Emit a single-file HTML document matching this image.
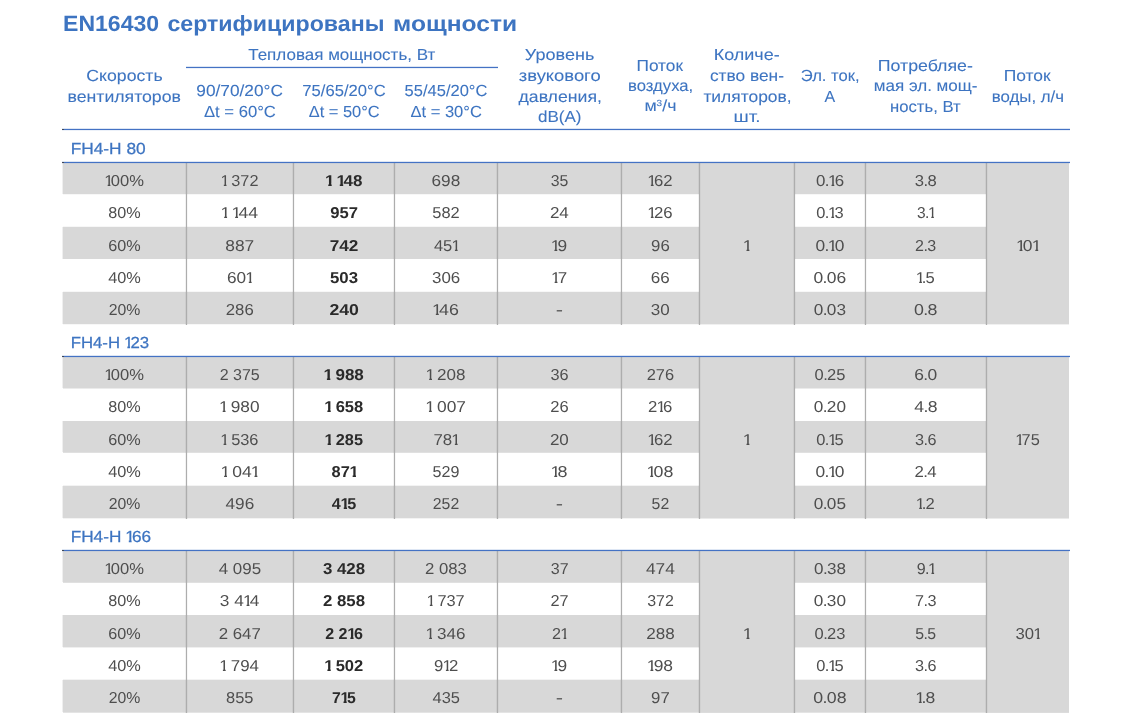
<!DOCTYPE html>
<html lang="ru"><head><meta charset="utf-8"><title>EN16430 сертифицированы мощности</title>
<style>
html,body{margin:0;padding:0;background:#fff;}
body{width:1129px;height:724px;position:relative;overflow:hidden;font-family:"Liberation Sans","DejaVu Sans",sans-serif;}
.t{position:absolute;white-space:nowrap;text-rendering:geometricPrecision;line-height:21px;height:21px;font-size:16px;color:#3d74c1;-webkit-text-stroke:.08px #3d74c1;}
.title{font-size:22px;font-weight:700;-webkit-text-stroke:0;}
.s{-webkit-text-stroke:.25px #3d74c1;}
.d{color:#4e4e4e;font-size:15.8px;-webkit-text-stroke:0;}
.b{color:#2a2a2a;font-size:15.8px;font-weight:700;-webkit-text-stroke:0;}
h1{margin:0;font:inherit;}
.g,.v,.l{position:absolute;}
.g{background:#d8d8d8;}
.c::before{content:"";position:absolute;left:0;top:0;width:2px;height:1px;background:#3f4756;}
.v{background:#adadad;width:1px;box-shadow:-1px 0 0 rgba(0,0,0,.05),1px 0 0 rgba(0,0,0,.03);}
.l{background:#4472c4;height:1px;box-shadow:0 -1px 0 rgba(68,114,196,.18),0 1px 0 rgba(68,114,196,.1);}
i{font-style:normal;display:inline-block;margin:0 -2.6px 0 -.8px;clip-path:polygon(0 0,100% 0,100% 12.7px,5.9px 12.7px,5.9px 100%,3.3px 100%,3.3px 12.7px,0 12.7px);}
.b i{margin:0 -2.2px 0 -.3px;clip-path:polygon(0 0,100% 0,100% 12.3px,6.3px 12.3px,6.3px 100%,3.1px 100%,3.1px 12.3px,0 12.3px);}
u{text-decoration:none;margin:0 -.6px;}
sup{font-size:9px;line-height:0;vertical-align:baseline;position:relative;top:-5.5px;}
</style></head><body>
<div class="l" style="left:186px;top:67px;width:312px;"></div>
<div class="l c" style="left:62px;top:129px;width:1008px;"></div>
<div class="g" style="left:63px;top:163px;width:1006px;height:31px;box-shadow:-1px 0 0 rgba(216,216,216,.4),0 1px 0 rgba(216,216,216,.20);"></div>
<div class="g" style="left:63px;top:227px;width:1006px;height:32px;box-shadow:-1px 0 0 rgba(216,216,216,.4),0 -1px 0 rgba(216,216,216,.20);"></div>
<div class="g" style="left:63px;top:292px;width:1006px;height:32px;box-shadow:-1px 0 0 rgba(216,216,216,.4),0 -1px 0 rgba(216,216,216,.20),0 1px 0 rgba(216,216,216,.20);"></div>
<div class="g" style="left:699px;top:163px;width:96px;height:161px;box-shadow:0 1px 0 rgba(216,216,216,.20);"></div>
<div class="g" style="left:986px;top:163px;width:83px;height:161px;box-shadow:0 1px 0 rgba(216,216,216,.20);"></div>
<div class="v" style="left:186px;top:163px;height:161.6px;"></div>
<div class="v" style="left:293px;top:163px;height:161.6px;"></div>
<div class="v" style="left:394px;top:163px;height:161.6px;"></div>
<div class="v" style="left:497px;top:163px;height:161.6px;"></div>
<div class="v" style="left:621px;top:163px;height:161.6px;"></div>
<div class="v" style="left:699px;top:163px;height:161.6px;"></div>
<div class="v" style="left:794px;top:163px;height:161.6px;"></div>
<div class="v" style="left:865px;top:163px;height:161.6px;"></div>
<div class="v" style="left:986px;top:163px;height:161.6px;"></div>
<div class="l c" style="left:62px;top:162px;width:1008px;"></div>
<div class="g" style="left:63px;top:357px;width:1006px;height:31px;box-shadow:-1px 0 0 rgba(216,216,216,.4),0 1px 0 rgba(216,216,216,.50);"></div>
<div class="g" style="left:63px;top:421px;width:1006px;height:31px;box-shadow:-1px 0 0 rgba(216,216,216,.4),0 1px 0 rgba(216,216,216,.80);"></div>
<div class="g" style="left:63px;top:486px;width:1006px;height:32px;box-shadow:-1px 0 0 rgba(216,216,216,.4),0 -1px 0 rgba(216,216,216,.30),0 1px 0 rgba(216,216,216,.30);"></div>
<div class="g" style="left:699px;top:357px;width:96px;height:161px;box-shadow:0 1px 0 rgba(216,216,216,.30);"></div>
<div class="g" style="left:986px;top:357px;width:83px;height:161px;box-shadow:0 1px 0 rgba(216,216,216,.30);"></div>
<div class="v" style="left:186px;top:357px;height:161.6px;"></div>
<div class="v" style="left:293px;top:357px;height:161.6px;"></div>
<div class="v" style="left:394px;top:357px;height:161.6px;"></div>
<div class="v" style="left:497px;top:357px;height:161.6px;"></div>
<div class="v" style="left:621px;top:357px;height:161.6px;"></div>
<div class="v" style="left:699px;top:357px;height:161.6px;"></div>
<div class="v" style="left:794px;top:357px;height:161.6px;"></div>
<div class="v" style="left:865px;top:357px;height:161.6px;"></div>
<div class="v" style="left:986px;top:357px;height:161.6px;"></div>
<div class="l c" style="left:62px;top:356px;width:1008px;"></div>
<div class="g" style="left:63px;top:551px;width:1006px;height:31px;box-shadow:-1px 0 0 rgba(216,216,216,.4),0 1px 0 rgba(216,216,216,.80);"></div>
<div class="g" style="left:63px;top:615px;width:1006px;height:32px;box-shadow:-1px 0 0 rgba(216,216,216,.4),0 1px 0 rgba(216,216,216,.40);"></div>
<div class="g" style="left:63px;top:680px;width:1006px;height:32px;box-shadow:-1px 0 0 rgba(216,216,216,.4),0 -1px 0 rgba(216,216,216,.30),0 1px 0 rgba(216,216,216,.70);"></div>
<div class="g" style="left:699px;top:551px;width:96px;height:161px;box-shadow:0 1px 0 rgba(216,216,216,.70);"></div>
<div class="g" style="left:986px;top:551px;width:83px;height:161px;box-shadow:0 1px 0 rgba(216,216,216,.70);"></div>
<div class="v" style="left:186px;top:551px;height:161.6px;"></div>
<div class="v" style="left:293px;top:551px;height:161.6px;"></div>
<div class="v" style="left:394px;top:551px;height:161.6px;"></div>
<div class="v" style="left:497px;top:551px;height:161.6px;"></div>
<div class="v" style="left:621px;top:551px;height:161.6px;"></div>
<div class="v" style="left:699px;top:551px;height:161.6px;"></div>
<div class="v" style="left:794px;top:551px;height:161.6px;"></div>
<div class="v" style="left:865px;top:551px;height:161.6px;"></div>
<div class="v" style="left:986px;top:551px;height:161.6px;"></div>
<div class="l c" style="left:62px;top:550px;width:1008px;"></div>
<h1><span class="t title" style="left:63px;top:13.00px;transform-origin:1.40px 50%;transform:translateX(0.10px) scaleX(1.0475);">EN16430</span> <span class="t title" style="left:167px;top:13.00px;transform-origin:0.80px 50%;transform:translateX(0.45px) scaleX(1.0528);">сертифицированы</span> <span class="t title" style="left:393px;top:13.00px;transform-origin:1.55px 50%;transform:translateX(0.20px) scaleX(1.1183);">мощности</span></h1>
<div class="t h" style="left:89px;top:66.00px;transform-origin:34.55px 50%;transform:translateX(0.95px) scaleX(1.1037);">Скорость</div>
<div class="t h" style="left:72px;top:87.00px;transform-origin:51.46px 50%;transform:translateX(0.91px) scaleX(1.1042);">вентиляторов</div>
<div class="t h" style="left:253px;top:45.00px;transform-origin:88.00px 50%;transform:translateX(0.75px) scaleX(1.0627);">Тепловая мощность, Вт</div>
<div class="t h" style="left:199px;top:81.00px;transform-origin:40.24px 50%;transform:translateX(0.51px) scaleX(1.0794);">90/70/20°C</div>
<div class="t h" style="left:205px;top:102.00px;transform-origin:34.44px 50%;transform:translateX(0.31px) scaleX(1.0406);">Δt = 60°C</div>
<div class="t h" style="left:303px;top:81.00px;transform-origin:40.24px 50%;transform:translateX(0.88px) scaleX(1.0381);">75/65/20°C</div>
<div class="t h" style="left:309px;top:102.00px;transform-origin:34.44px 50%;transform:translateX(0.56px) scaleX(1.0259);">Δt = 50°C</div>
<div class="t h" style="left:405px;top:81.00px;transform-origin:40.12px 50%;transform:translateX(0.88px) scaleX(1.0317);">55/45/20°C</div>
<div class="t h" style="left:411px;top:102.00px;transform-origin:34.44px 50%;transform:translateX(0.56px) scaleX(1.0332);">Δt = 30°C</div>
<div class="t h" style="left:528px;top:45.00px;transform-origin:30.82px 50%;transform:translateX(0.80px) scaleX(1.1281);">Уровень</div>
<div class="t h" style="left:524px;top:66.00px;transform-origin:35.59px 50%;transform:translateX(0.16px) scaleX(1.1500);">звукового</div>
<div class="t h" style="left:522px;top:87.00px;transform-origin:37.12px 50%;transform:translateX(0.38px) scaleX(1.1051);">давления,</div>
<div class="t h" style="left:539px;top:107.00px;transform-origin:20.33px 50%;transform:translateX(0.30px) scaleX(1.0637);">dB(A)</div>
<div class="t h" style="left:638px;top:56.00px;transform-origin:22.27px 50%;transform:translateX(0.23px) scaleX(1.0779);">Поток</div>
<div class="t h" style="left:629px;top:76.00px;transform-origin:31.12px 50%;transform:translateX(0.38px) scaleX(1.0417);">воздуха,</div>
<div class="t h" style="left:646px;top:96.00px;transform-origin:14.37px 50%;transform:translateX(0.00px) scaleX(1.1122);">м<sup>3</sup>/ч</div>
<div class="t h" style="left:717px;top:45.00px;transform-origin:29.65px 50%;transform:translateX(0.35px) scaleX(1.1239);">Количе-</div>
<div class="t h" style="left:712px;top:66.00px;transform-origin:34.24px 50%;transform:translateX(0.76px) scaleX(1.0821);">ство вен-</div>
<div class="t h" style="left:706px;top:87.00px;transform-origin:39.96px 50%;transform:translateX(0.92px) scaleX(1.0883);">тиляторов,</div>
<div class="t h" style="left:735px;top:107.00px;transform-origin:11.22px 50%;transform:translateX(0.65px) scaleX(1.1833);">шт.</div>
<div class="t h" style="left:801px;top:66.00px;transform-origin:28.07px 50%;transform:translateX(0.81px) scaleX(1.0369);">Эл. ток,</div>
<div class="t h" style="left:824px;top:87.00px;transform-origin:5.44px 50%;transform:translateX(0.56px) scaleX(1.0008);">А</div>
<div class="t h" style="left:882px;top:56.00px;transform-origin:43.09px 50%;transform:translateX(0.54px) scaleX(1.1108);">Потребляе-</div>
<div class="t h" style="left:876px;top:76.00px;transform-origin:48.84px 50%;transform:translateX(0.91px) scaleX(1.0653);">мая эл. мощ-</div>
<div class="t h" style="left:891px;top:97.00px;transform-origin:34.26px 50%;transform:translateX(0.49px) scaleX(1.0415);">ность, Вт</div>
<div class="t h" style="left:1005px;top:66.00px;transform-origin:22.27px 50%;transform:translateX(0.73px) scaleX(1.0898);">Поток</div>
<div class="t h" style="left:993px;top:87.00px;transform-origin:34.46px 50%;transform:translateX(0.54px) scaleX(1.0526);">воды, л/ч</div>
<div class="t s" style="left:70px;top:139.00px;transform-origin:1.25px 50%;transform:translateX(0.75px) scaleX(1.0815);">FH4-H 80</div>
<div class="t d" style="left:105px;top:171.00px;transform-origin:18.54px 50%;transform:translateX(0.96px) scaleX(1.0490);"><i>1</i>00%</div>
<div class="t d" style="left:221px;top:171.00px;transform-origin:17.98px 50%;transform:translateX(0.77px) scaleX(1.0290);"><i>1</i> 372</div>
<div class="t b" style="left:326px;top:171.00px;transform-origin:17.45px 50%;transform:translateX(0.55px) scaleX(1.0744);"><i>1</i> <i>1</i>48</div>
<div class="t d" style="left:432px;top:171.00px;transform-origin:13.18px 50%;transform:translateX(0.70px) scaleX(1.0901);">698</div>
<div class="t d" style="left:550px;top:171.00px;transform-origin:8.66px 50%;transform:translateX(0.71px) scaleX(1.0003);">35</div>
<div class="t d" style="left:648px;top:171.00px;transform-origin:11.49px 50%;transform:translateX(0.88px) scaleX(1.0582);"><i>1</i>62</div>
<div class="t d" style="left:816px;top:171.00px;transform-origin:13.08px 50%;transform:translateX(0.92px) scaleX(1.0708);">0<u>.</u><i>1</i>6</div>
<div class="t d" style="left:915px;top:171.00px;transform-origin:10.40px 50%;transform:translateX(0.35px) scaleX(1.0513);">3<u>.</u>8</div>
<div class="t d" style="left:108px;top:203.00px;transform-origin:15.94px 50%;transform:translateX(0.56px) scaleX(1.0248);">80%</div>
<div class="t d" style="left:223px;top:203.00px;transform-origin:16.54px 50%;transform:translateX(0.34px) scaleX(1.1191);"><i>1</i> <i>1</i>44</div>
<div class="t b" style="left:330px;top:203.00px;transform-origin:13.05px 50%;transform:translateX(0.95px) scaleX(1.0528);">957</div>
<div class="t d" style="left:432px;top:203.00px;transform-origin:13.05px 50%;transform:translateX(0.82px) scaleX(1.0405);">582</div>
<div class="t d" style="left:550px;top:203.00px;transform-origin:8.91px 50%;transform:translateX(0.59px) scaleX(1.0771);">24</div>
<div class="t d" style="left:648px;top:203.00px;transform-origin:11.49px 50%;transform:translateX(0.88px) scaleX(1.0582);"><i>1</i>26</div>
<div class="t d" style="left:816px;top:203.00px;transform-origin:13.08px 50%;transform:translateX(0.80px) scaleX(1.0406);">0<u>.</u><i>1</i>3</div>
<div class="t d" style="left:916px;top:203.00px;transform-origin:8.88px 50%;transform:translateX(0.88px) scaleX(0.9846);">3<u>.</u><i>1</i></div>
<div class="t d" style="left:108px;top:236.00px;transform-origin:15.94px 50%;transform:translateX(0.56px) scaleX(1.0250);">60%</div>
<div class="t d" style="left:226px;top:236.00px;transform-origin:13.05px 50%;transform:translateX(0.57px) scaleX(1.1010);">887</div>
<div class="t b" style="left:330px;top:236.00px;transform-origin:13.18px 50%;transform:translateX(0.82px) scaleX(1.0865);">742</div>
<div class="t d" style="left:434px;top:236.00px;transform-origin:11.54px 50%;transform:translateX(0.46px) scaleX(1.0444);">45<i>1</i></div>
<div class="t d" style="left:552px;top:236.00px;transform-origin:7.12px 50%;transform:translateX(0.38px) scaleX(1.0980);"><i>1</i>9</div>
<div class="t d" style="left:651px;top:236.00px;transform-origin:8.89px 50%;transform:translateX(0.61px) scaleX(1.0631);">96</div>
<div class="t d" style="left:816px;top:236.00px;transform-origin:13.08px 50%;transform:translateX(0.80px) scaleX(1.1010);">0<u>.</u><i>1</i>0</div>
<div class="t d" style="left:915px;top:236.00px;transform-origin:10.52px 50%;transform:translateX(0.23px) scaleX(1.0133);">2<u>.</u>3</div>
<div class="t d" style="left:108px;top:268.00px;transform-origin:15.69px 50%;transform:translateX(0.69px) scaleX(1.0326);">40%</div>
<div class="t d" style="left:227px;top:268.00px;transform-origin:11.79px 50%;transform:translateX(0.96px) scaleX(1.0909);">60<i>1</i></div>
<div class="t b" style="left:330px;top:268.00px;transform-origin:13.05px 50%;transform:translateX(0.82px) scaleX(1.0643);">503</div>
<div class="t d" style="left:432px;top:268.00px;transform-origin:13.18px 50%;transform:translateX(0.95px) scaleX(1.0700);">306</div>
<div class="t d" style="left:552px;top:268.00px;transform-origin:7.12px 50%;transform:translateX(0.50px) scaleX(1.0786);"><i>1</i>7</div>
<div class="t d" style="left:651px;top:268.00px;transform-origin:8.89px 50%;transform:translateX(0.49px) scaleX(1.0785);">66</div>
<div class="t d" style="left:815px;top:268.00px;transform-origin:14.76px 50%;transform:translateX(0.11px) scaleX(1.1062);">0<u>.</u>06</div>
<div class="t d" style="left:917px;top:268.00px;transform-origin:8.73px 50%;transform:translateX(0.02px) scaleX(1.0482);"><i>1</i><u>.</u>5</div>
<div class="t d" style="left:108px;top:300.00px;transform-origin:15.94px 50%;transform:translateX(0.69px) scaleX(1.0000);">20%</div>
<div class="t d" style="left:226px;top:300.00px;transform-origin:13.18px 50%;transform:translateX(0.57px) scaleX(1.0600);">286</div>
<div class="t b" style="left:330px;top:300.00px;transform-origin:13.05px 50%;transform:translateX(0.95px) scaleX(1.1193);">240</div>
<div class="t d" style="left:434px;top:300.00px;transform-origin:11.52px 50%;transform:translateX(0.48px) scaleX(1.1266);"><i>1</i>46</div>
<div class="t d" style="left:556px;top:300.00px;transform-origin:2.63px 50%;transform:translateX(0.87px) scaleX(1.3825);">-</div>
<div class="t d" style="left:651px;top:300.00px;transform-origin:8.76px 50%;transform:translateX(0.49px) scaleX(1.0769);">30</div>
<div class="t d" style="left:815px;top:300.00px;transform-origin:14.76px 50%;transform:translateX(0.11px) scaleX(1.0885);">0<u>.</u>03</div>
<div class="t d" style="left:915px;top:300.00px;transform-origin:10.40px 50%;transform:translateX(0.35px) scaleX(1.1284);">0<u>.</u>8</div>
<div class="t d" style="left:744px;top:236.00px;transform-origin:2.95px 50%;transform:translateX(0.05px) scaleX(1.1155);"><i>1</i></div>
<div class="t d" style="left:1017px;top:236.00px;transform-origin:10.10px 50%;transform:translateX(0.90px) scaleX(1.1082);"><i>1</i>0<i>1</i></div>
<div class="t s" style="left:70px;top:333.00px;transform-origin:1.25px 50%;transform:translateX(0.75px) scaleX(1.0480);">FH4-H <i>1</i>23</div>
<div class="t d" style="left:105px;top:365.00px;transform-origin:18.54px 50%;transform:translateX(0.96px) scaleX(1.0490);"><i>1</i>00%</div>
<div class="t d" style="left:219px;top:365.00px;transform-origin:19.77px 50%;transform:translateX(0.98px) scaleX(1.0132);">2 375</div>
<div class="t b" style="left:325px;top:365.00px;transform-origin:18.55px 50%;transform:translateX(0.32px) scaleX(1.0781);"><i>1</i> 988</div>
<div class="t d" style="left:427px;top:365.00px;transform-origin:18.10px 50%;transform:translateX(0.90px) scaleX(1.0792);"><i>1</i> 208</div>
<div class="t d" style="left:550px;top:365.00px;transform-origin:8.66px 50%;transform:translateX(0.71px) scaleX(1.0311);">36</div>
<div class="t d" style="left:647px;top:365.00px;transform-origin:13.28px 50%;transform:translateX(0.22px) scaleX(1.0400);">276</div>
<div class="t d" style="left:815px;top:365.00px;transform-origin:14.76px 50%;transform:translateX(0.24px) scaleX(1.0442);">0<u>.</u>25</div>
<div class="t d" style="left:915px;top:365.00px;transform-origin:10.52px 50%;transform:translateX(0.35px) scaleX(1.1040);">6<u>.</u>0</div>
<div class="t d" style="left:108px;top:397.00px;transform-origin:15.94px 50%;transform:translateX(0.56px) scaleX(1.0248);">80%</div>
<div class="t d" style="left:221px;top:397.00px;transform-origin:18.10px 50%;transform:translateX(0.65px) scaleX(1.0935);"><i>1</i> 980</div>
<div class="t b" style="left:325px;top:397.00px;transform-origin:18.55px 50%;transform:translateX(0.32px) scaleX(1.0474);"><i>1</i> 658</div>
<div class="t d" style="left:428px;top:397.00px;transform-origin:17.98px 50%;transform:translateX(0.02px) scaleX(1.1015);"><i>1</i> 007</div>
<div class="t d" style="left:550px;top:397.00px;transform-origin:8.79px 50%;transform:translateX(0.59px) scaleX(1.0470);">26</div>
<div class="t d" style="left:648px;top:397.00px;transform-origin:11.60px 50%;transform:translateX(0.77px) scaleX(1.0582);">2<i>1</i>6</div>
<div class="t d" style="left:815px;top:397.00px;transform-origin:14.76px 50%;transform:translateX(0.11px) scaleX(1.0885);">0<u>.</u>20</div>
<div class="t d" style="left:915px;top:397.00px;transform-origin:10.27px 50%;transform:translateX(0.48px) scaleX(1.1140);">4<u>.</u>8</div>
<div class="t d" style="left:108px;top:430.00px;transform-origin:15.94px 50%;transform:translateX(0.56px) scaleX(1.0250);">60%</div>
<div class="t d" style="left:221px;top:430.00px;transform-origin:18.10px 50%;transform:translateX(0.65px) scaleX(1.0360);"><i>1</i> 536</div>
<div class="t b" style="left:325px;top:430.00px;transform-origin:18.68px 50%;transform:translateX(0.32px) scaleX(1.0314);"><i>1</i> 285</div>
<div class="t d" style="left:434px;top:430.00px;transform-origin:11.79px 50%;transform:translateX(0.21px) scaleX(1.0683);">78<i>1</i></div>
<div class="t d" style="left:550px;top:430.00px;transform-origin:8.91px 50%;transform:translateX(0.59px) scaleX(1.0769);">20</div>
<div class="t d" style="left:648px;top:430.00px;transform-origin:11.49px 50%;transform:translateX(0.88px) scaleX(1.0582);"><i>1</i>62</div>
<div class="t d" style="left:816px;top:430.00px;transform-origin:13.08px 50%;transform:translateX(0.80px) scaleX(1.0406);">0<u>.</u><i>1</i>5</div>
<div class="t d" style="left:915px;top:430.00px;transform-origin:10.40px 50%;transform:translateX(0.35px) scaleX(1.0257);">3<u>.</u>6</div>
<div class="t d" style="left:108px;top:462.00px;transform-origin:15.69px 50%;transform:translateX(0.69px) scaleX(1.0326);">40%</div>
<div class="t d" style="left:223px;top:462.00px;transform-origin:16.71px 50%;transform:translateX(0.16px) scaleX(1.1103);"><i>1</i> 04<i>1</i></div>
<div class="t b" style="left:331px;top:462.00px;transform-origin:12.04px 50%;transform:translateX(0.96px) scaleX(1.0367);">87<i>1</i></div>
<div class="t d" style="left:432px;top:462.00px;transform-origin:13.18px 50%;transform:translateX(0.82px) scaleX(1.0200);">529</div>
<div class="t d" style="left:552px;top:462.00px;transform-origin:7.12px 50%;transform:translateX(0.38px) scaleX(1.1378);"><i>1</i>8</div>
<div class="t d" style="left:648px;top:462.00px;transform-origin:11.49px 50%;transform:translateX(0.88px) scaleX(1.1281);"><i>1</i>08</div>
<div class="t d" style="left:816px;top:462.00px;transform-origin:13.08px 50%;transform:translateX(0.80px) scaleX(1.1010);">0<u>.</u><i>1</i>0</div>
<div class="t d" style="left:915px;top:462.00px;transform-origin:10.65px 50%;transform:translateX(0.23px) scaleX(1.0642);">2<u>.</u>4</div>
<div class="t d" style="left:108px;top:494.00px;transform-origin:15.94px 50%;transform:translateX(0.69px) scaleX(1.0000);">20%</div>
<div class="t d" style="left:226px;top:494.00px;transform-origin:13.05px 50%;transform:translateX(0.70px) scaleX(1.0891);">496</div>
<div class="t b" style="left:332px;top:494.00px;transform-origin:11.83px 50%;transform:translateX(0.17px) scaleX(1.0258);">4<i>1</i>5</div>
<div class="t d" style="left:432px;top:494.00px;transform-origin:13.05px 50%;transform:translateX(0.82px) scaleX(1.0001);">252</div>
<div class="t d" style="left:556px;top:494.00px;transform-origin:2.63px 50%;transform:translateX(0.87px) scaleX(1.3825);">-</div>
<div class="t d" style="left:651px;top:494.00px;transform-origin:8.64px 50%;transform:translateX(0.61px) scaleX(1.0003);">52</div>
<div class="t d" style="left:815px;top:494.00px;transform-origin:14.76px 50%;transform:translateX(0.11px) scaleX(1.0885);">0<u>.</u>05</div>
<div class="t d" style="left:917px;top:494.00px;transform-origin:8.73px 50%;transform:translateX(0.02px) scaleX(1.0477);"><i>1</i><u>.</u>2</div>
<div class="t d" style="left:744px;top:430.00px;transform-origin:2.95px 50%;transform:translateX(0.05px) scaleX(1.1155);"><i>1</i></div>
<div class="t d" style="left:1016px;top:430.00px;transform-origin:11.49px 50%;transform:translateX(0.38px) scaleX(1.0350);"><i>1</i>75</div>
<div class="t s" style="left:70px;top:527.00px;transform-origin:1.25px 50%;transform:translateX(0.75px) scaleX(1.0753);">FH4-H <i>1</i>66</div>
<div class="t d" style="left:105px;top:559.00px;transform-origin:18.54px 50%;transform:translateX(0.96px) scaleX(1.0490);"><i>1</i>00%</div>
<div class="t d" style="left:220px;top:559.00px;transform-origin:19.52px 50%;transform:translateX(0.11px) scaleX(1.0715);">4 095</div>
<div class="t b" style="left:324px;top:559.00px;transform-origin:19.77px 50%;transform:translateX(0.23px) scaleX(1.0663);">3 428</div>
<div class="t d" style="left:426px;top:559.00px;transform-origin:19.77px 50%;transform:translateX(0.11px) scaleX(1.0592);">2 083</div>
<div class="t d" style="left:550px;top:559.00px;transform-origin:8.66px 50%;transform:translateX(0.84px) scaleX(1.0154);">37</div>
<div class="t d" style="left:647px;top:559.00px;transform-origin:13.15px 50%;transform:translateX(0.22px) scaleX(1.0972);">474</div>
<div class="t d" style="left:815px;top:559.00px;transform-origin:14.76px 50%;transform:translateX(0.24px) scaleX(1.0796);">0<u>.</u>38</div>
<div class="t d" style="left:916px;top:559.00px;transform-origin:8.88px 50%;transform:translateX(0.88px) scaleX(1.0155);">9<u>.</u><i>1</i></div>
<div class="t d" style="left:108px;top:591.00px;transform-origin:15.94px 50%;transform:translateX(0.56px) scaleX(1.0248);">80%</div>
<div class="t d" style="left:221px;top:591.00px;transform-origin:18.21px 50%;transform:translateX(0.54px) scaleX(1.0923);">3 4<i>1</i>4</div>
<div class="t b" style="left:324px;top:591.00px;transform-origin:19.77px 50%;transform:translateX(0.23px) scaleX(1.0652);">2 858</div>
<div class="t d" style="left:427px;top:591.00px;transform-origin:17.98px 50%;transform:translateX(0.90px) scaleX(1.0363);"><i>1</i> 737</div>
<div class="t d" style="left:550px;top:591.00px;transform-origin:8.79px 50%;transform:translateX(0.71px) scaleX(1.0312);">27</div>
<div class="t d" style="left:647px;top:591.00px;transform-origin:13.15px 50%;transform:translateX(0.35px) scaleX(1.0101);">372</div>
<div class="t d" style="left:815px;top:591.00px;transform-origin:14.76px 50%;transform:translateX(0.11px) scaleX(1.0885);">0<u>.</u>30</div>
<div class="t d" style="left:915px;top:591.00px;transform-origin:10.52px 50%;transform:translateX(0.35px) scaleX(1.0262);">7<u>.</u>3</div>
<div class="t d" style="left:108px;top:624.00px;transform-origin:15.94px 50%;transform:translateX(0.56px) scaleX(1.0250);">60%</div>
<div class="t d" style="left:219px;top:624.00px;transform-origin:19.77px 50%;transform:translateX(0.98px) scaleX(1.0659);">2 647</div>
<div class="t b" style="left:325px;top:624.00px;transform-origin:18.54px 50%;transform:translateX(0.46px) scaleX(1.0164);">2 2<i>1</i>6</div>
<div class="t d" style="left:427px;top:624.00px;transform-origin:18.10px 50%;transform:translateX(0.90px) scaleX(1.0792);"><i>1</i> 346</div>
<div class="t d" style="left:552px;top:624.00px;transform-origin:7.40px 50%;transform:translateX(0.23px) scaleX(1.0194);">2<i>1</i></div>
<div class="t d" style="left:647px;top:624.00px;transform-origin:13.28px 50%;transform:translateX(0.22px) scaleX(1.0801);">288</div>
<div class="t d" style="left:815px;top:624.00px;transform-origin:14.76px 50%;transform:translateX(0.24px) scaleX(1.0443);">0<u>.</u>23</div>
<div class="t d" style="left:915px;top:624.00px;transform-origin:10.40px 50%;transform:translateX(0.35px) scaleX(1.0000);">5<u>.</u>5</div>
<div class="t d" style="left:108px;top:656.00px;transform-origin:15.69px 50%;transform:translateX(0.69px) scaleX(1.0326);">40%</div>
<div class="t d" style="left:221px;top:656.00px;transform-origin:18.23px 50%;transform:translateX(0.52px) scaleX(1.0715);"><i>1</i> 794</div>
<div class="t b" style="left:325px;top:656.00px;transform-origin:18.55px 50%;transform:translateX(0.32px) scaleX(1.0465);"><i>1</i> 502</div>
<div class="t d" style="left:434px;top:656.00px;transform-origin:11.50px 50%;transform:translateX(0.62px) scaleX(1.0583);">9<i>1</i>2</div>
<div class="t d" style="left:552px;top:656.00px;transform-origin:7.12px 50%;transform:translateX(0.38px) scaleX(1.0980);"><i>1</i>9</div>
<div class="t d" style="left:648px;top:656.00px;transform-origin:11.49px 50%;transform:translateX(0.88px) scaleX(1.1047);"><i>1</i>98</div>
<div class="t d" style="left:816px;top:656.00px;transform-origin:13.08px 50%;transform:translateX(0.80px) scaleX(1.0406);">0<u>.</u><i>1</i>5</div>
<div class="t d" style="left:915px;top:656.00px;transform-origin:10.40px 50%;transform:translateX(0.35px) scaleX(1.0257);">3<u>.</u>6</div>
<div class="t d" style="left:108px;top:688.00px;transform-origin:15.94px 50%;transform:translateX(0.69px) scaleX(1.0000);">20%</div>
<div class="t d" style="left:226px;top:688.00px;transform-origin:13.18px 50%;transform:translateX(0.57px) scaleX(1.0402);">855</div>
<div class="t b" style="left:331px;top:688.00px;transform-origin:12.08px 50%;transform:translateX(0.92px) scaleX(0.9996);">7<i>1</i>5</div>
<div class="t d" style="left:433px;top:688.00px;transform-origin:13.05px 50%;transform:translateX(0.07px) scaleX(1.0397);">435</div>
<div class="t d" style="left:556px;top:688.00px;transform-origin:2.63px 50%;transform:translateX(0.87px) scaleX(1.3825);">-</div>
<div class="t d" style="left:651px;top:688.00px;transform-origin:8.76px 50%;transform:translateX(0.61px) scaleX(1.0639);">97</div>
<div class="t d" style="left:815px;top:688.00px;transform-origin:14.76px 50%;transform:translateX(0.11px) scaleX(1.1239);">0<u>.</u>08</div>
<div class="t d" style="left:917px;top:688.00px;transform-origin:8.73px 50%;transform:translateX(0.02px) scaleX(1.1116);"><i>1</i><u>.</u>8</div>
<div class="t d" style="left:744px;top:624.00px;transform-origin:2.95px 50%;transform:translateX(0.05px) scaleX(1.1155);"><i>1</i></div>
<div class="t d" style="left:1016px;top:624.00px;transform-origin:11.64px 50%;transform:translateX(0.24px) scaleX(1.0569);">30<i>1</i></div>
</body></html>
